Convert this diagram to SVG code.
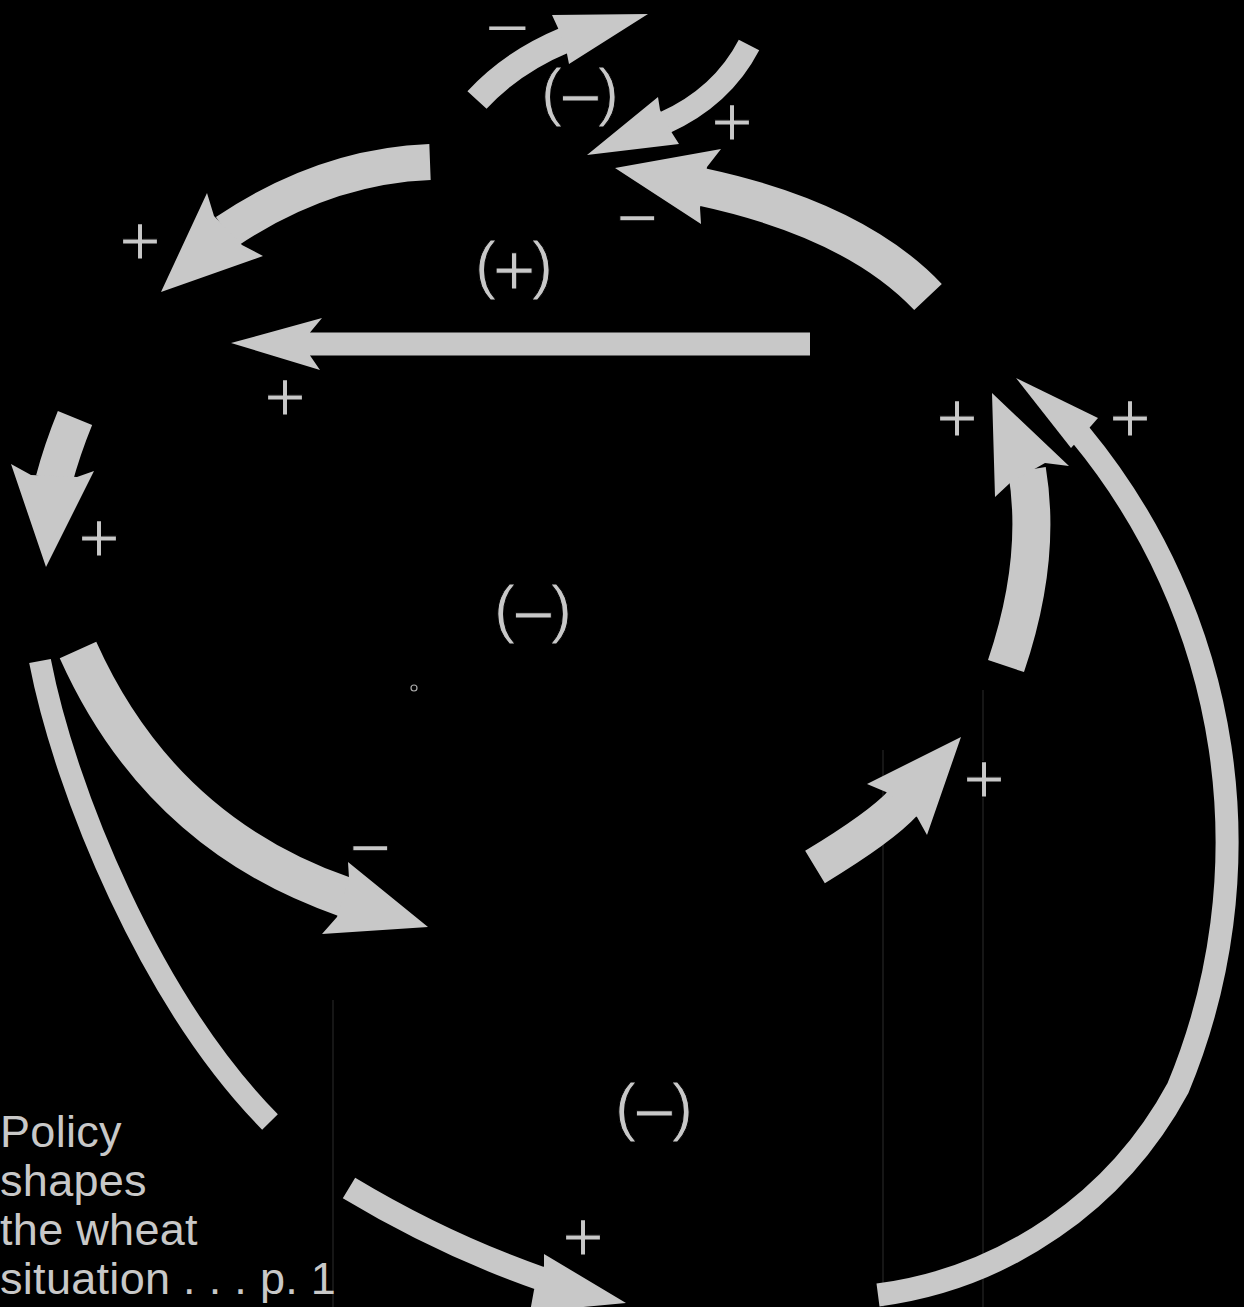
<svg xmlns="http://www.w3.org/2000/svg" width="1244" height="1307" viewBox="0 0 1244 1307">
<style>
.body{fill:none;stroke:#c8c8c8;stroke-linecap:butt;stroke-linejoin:round}
.head{fill:#c8c8c8}
.sign{font-family:"Liberation Sans",Arial,sans-serif;font-size:72px;fill:#c8c8c8;text-anchor:middle;stroke:#000;stroke-width:1.2px}
.loop{font-family:"Liberation Sans",Arial,sans-serif;font-size:65px;fill:#c8c8c8;text-anchor:middle;letter-spacing:-4px;stroke:#000;stroke-width:1px}
.inner{font-size:74px}
.caption{font-family:"Liberation Sans",Arial,sans-serif;font-size:45px;fill:#c8c8c8;letter-spacing:0.3px}
.scan{stroke:#262626;stroke-width:1.2}
</style>
<rect x="0" y="0" width="1244" height="1307" fill="#000"/>
<g id="scan-lines">
<line class="scan" x1="333" y1="1000" x2="333" y2="1307"/>
<line class="scan" x1="883" y1="750" x2="883" y2="1307"/>
<line class="scan" x1="983" y1="690" x2="983" y2="1307"/>
</g>
<g id="connectors">
<g id="arrow-a">
<path class="body" stroke-width="26" d="M477,100 Q512,62 565,40"/>
<polygon class="head" points="648,14 552,15 558,28 567,54 569,64"/>
</g>
<g id="arrow-b">
<path class="body" stroke-width="23" d="M749,45 Q722,97 664,123"/>
<polygon class="head" points="587,155 658,97 660,110 672,133 679,144"/>
</g>
<g id="arrow-c">
<path class="body" stroke-width="38" d="M928,297 Q855,220 702,187"/>
<polygon class="head" points="615,168 721,149 707,167 700,208 701,224"/>
</g>
<g id="arrow-d">
<path class="body" stroke-width="36" d="M430,162 Q324,166 226,232"/>
<polygon class="head" points="161,292 207,193 214,216 242,245 263,256"/>
</g>
<g id="arrow-e">
<path class="body" stroke-width="23" d="M810,344 L308,344"/>
<polygon class="head" points="231,343 322,318 310,332.5 310,355.5 320,370"/>
</g>
<g id="arrow-f">
<path class="body" stroke-width="37" d="M75,418 Q62,450 54,480"/>
<polygon class="head" points="46,567 11,464 31,475 77,477 94,471"/>
</g>
<g id="arrow-g">
<path class="body" stroke-width="40" d="M78,650 Q160,833 345,897"/>
<polygon class="head" points="428,927 348,862 349,878 337,917 322,934"/>
</g>
<g id="arrow-h">
<path class="body" stroke-width="22" d="M40,661 C65,790 150,1000 270,1122"/>
</g>
<g id="arrow-i">
<path class="body" stroke-width="24" d="M349,1188 Q442,1244 542,1279"/>
<polygon class="head" points="626,1303 544,1254 544,1266 534,1290 530,1312"/>
</g>
<g id="arrow-j">
<path class="body" stroke-width="23" d="M878,1295 A400,400 0 0 0 1178,1088 A640,640 0 0 0 1080,434"/>
<polygon class="head" points="1016,378 1098,418 1091,426 1071,448"/>
</g>
<g id="arrow-k">
<path class="body" stroke-width="38" d="M1006,666 Q1042,560 1027,470"/>
<polygon class="head" points="992,393 1069,466 1045,463 1010,483 995,497"/>
</g>
<g id="arrow-l">
<path class="body" stroke-width="38" d="M815,867 Q881,827 903,803"/>
<polygon class="head" points="961,737 867,784 886,792 917,817 927,835"/>
</g>
</g>
<g id="signs">
<text class="sign" style="font-size:48px;stroke:none" transform="translate(507,44) scale(1.55,1)" x="0" y="0">−</text>
<text class="sign" x="732" y="146">+</text>
<text class="sign" x="637" y="242">−</text>
<text class="sign" x="140" y="265">+</text>
<text class="sign" x="285" y="421">+</text>
<text class="sign" x="957" y="442">+</text>
<text class="sign" x="1130" y="442">+</text>
<text class="sign" x="99" y="562">+</text>
<text class="sign" x="370" y="872">−</text>
<text class="sign" x="984" y="803">+</text>
<text class="sign" x="583" y="1261">+</text>
</g>
<g id="loop-top"><text class="loop" x="578" y="114">(<tspan class="inner" dy="9">−</tspan><tspan dy="-9">)</tspan></text></g>
<g id="loop-upper"><text class="loop" x="512" y="287">(<tspan class="inner" dy="9">+</tspan><tspan dy="-9">)</tspan></text></g>
<g id="loop-center"><text class="loop" x="531" y="631">(<tspan class="inner" dy="9">−</tspan><tspan dy="-9">)</tspan></text></g>
<g id="loop-bottom"><text class="loop" x="652" y="1129">(<tspan class="inner" dy="9">−</tspan><tspan dy="-9">)</tspan></text></g>
<circle cx="414" cy="688" r="3" fill="none" stroke="#aaa" stroke-width="1.2"/>
<g id="caption">
<text class="caption" x="0" y="1147">Policy</text>
<text class="caption" x="0" y="1196">shapes</text>
<text class="caption" x="0" y="1245">the wheat</text>
<text class="caption" x="0" y="1294">situation . . . p. 1</text>
</g>
</svg>
